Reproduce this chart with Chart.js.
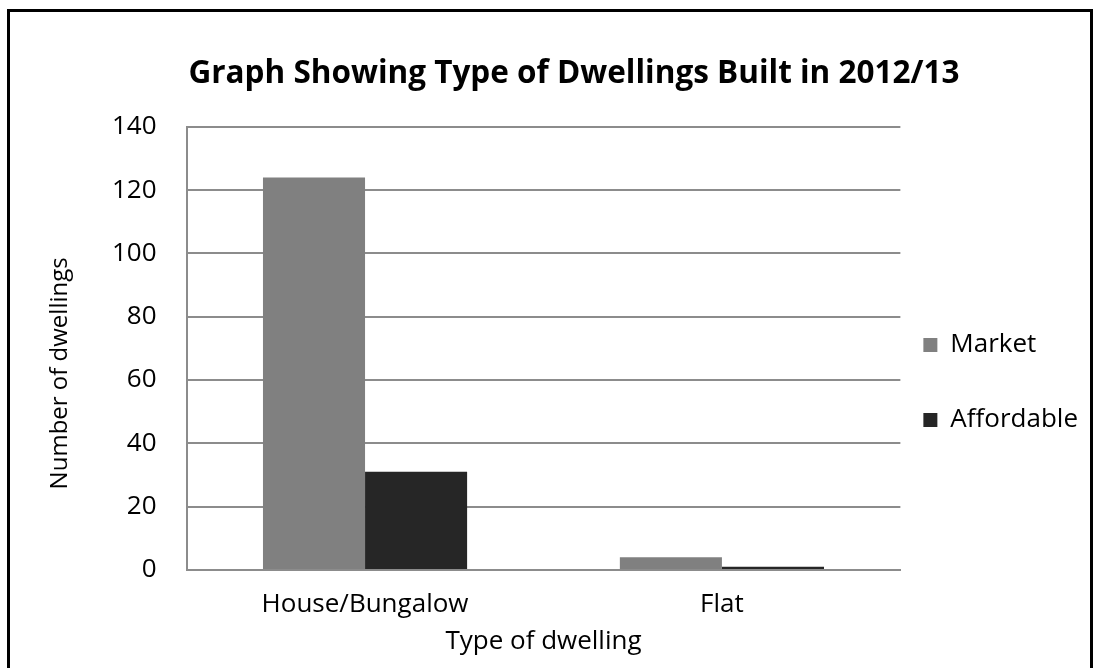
<!DOCTYPE html>
<html>
<head>
<meta charset="utf-8">
<title>Type of Dwellings Built in 2012/13</title>
<script src="https://cdn.jsdelivr.net/npm/chart.js@4.4.1/dist/chart.umd.min.js"></script>
<style>
  html, body { margin: 0; padding: 0; background: #fff; overflow: hidden; }
  #wrap { position: relative; width: 1094px; height: 668px; overflow: hidden; }
  #chartHome { position: absolute; left: 0; top: 0; }
  /* the Excel chart frame, bottom edge is cropped off */
  #frame { position: absolute; left: 7px; top: 9px; width: 1080px; height: 3000px;
           border: 3px solid #000; pointer-events: none; }
</style>
</head>
<body>
<div id="wrap">
  <canvas id="chartHome" width="1158" height="790"></canvas>
  <div id="frame"></div>
</div>
<script>
const categories = ['House/Bungalow', 'Flat'];
const seriesNames = ['Market', 'Affordable'];
const marketValues = [124, 4];
const affordableValues = [31, 1];
const yTicks = [0, 20, 40, 60, 80, 100, 120, 140];

const gridGrey = '#8c8c8c';

Chart.defaults.font.family = "'Open Sans', sans-serif";
Chart.defaults.font.size = 26;
Chart.defaults.color = '#000';

const data = {
  labels: categories,
  datasets: [{
    label: seriesNames[0],
    data: marketValues,
    backgroundColor: '#808080',
    borderWidth: 0
  },
  {
    label: seriesNames[1],
    data: affordableValues,
    backgroundColor: '#262626',
    borderWidth: 0
  }]
};

const myBar = new Chart(document.getElementById('chartHome').getContext('2d'), {
  type: 'bar',
  data: data,
  options: {
    responsive: false,
    animation: false,
    layout: { padding: { left: 60, right: 70, top: 10, bottom: 9 } },
    datasets: {
      bar: { barPercentage: 1, categoryPercentage: 0.572 }
    },
    plugins: {
      title: {
        display: true,
        text: 'Graph Showing Type of Dwellings Built in 2012/13',
        font: { size: 31.5, weight: 'bold' },
        color: '#000',
        padding: { top: 45, bottom: 34 }
      },
      legend: {
        position: 'right',
        labels: {
          boxWidth: 14,
          boxHeight: 14,
          padding: 23,
          // tall line height keeps the two entries far apart, like Excel
          font: { size: 26, lineHeight: 2 },
          generateLabels: function (chart) {
            const items = Chart.defaults.plugins.legend.labels.generateLabels(chart);
            items.forEach(function (it) {
              it.lineWidth = 0;
              it.text = [it.text];
            });
            return items;
          }
        },
        onClick: function () {}
      },
      tooltip: { enabled: false }
    },
    scales: {
      x: {
        grid: { display: false, drawTicks: false },
        border: { display: true, color: gridGrey, width: 2 },
        ticks: { padding: 19 },
        title: {
          display: true,
          text: 'Type of dwelling',
          padding: { top: -12.8, bottom: 123.4 }
        }
      },
      y: {
        min: yTicks[0],
        max: yTicks[yTicks.length - 1],
        grid: { color: gridGrey, lineWidth: 2, drawTicks: false },
        border: { display: true, color: gridGrey, width: 2 },
        ticks: { stepSize: yTicks[1] - yTicks[0], padding: 30 },
        title: {
          display: true,
          // trailing spaces nudge the title down the axis like the original
          text: 'Number of dwellings        ',
          font: { size: 24 },
          padding: { top: -14, bottom: 7.2 }
        }
      }
    }
  }
});
</script>
</body>
</html>
